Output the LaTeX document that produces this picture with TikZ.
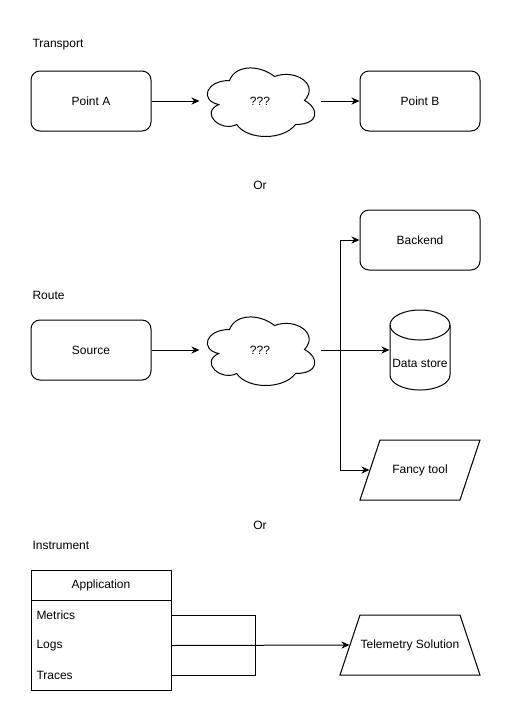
\documentclass[tikz,border=0pt]{standalone}
\usepackage{fontspec}
\setmainfont{Liberation Sans}
\usetikzlibrary{arrows.meta}
\begin{document}
\begin{tikzpicture}[x=1pt,y=-1pt,
  every node/.style={font=\fontsize{12pt}{14pt}\selectfont, inner sep=0pt},
  every path/.style={line width=1pt},
  line/.style={draw=black, line width=1pt},
  arr/.style={line, -{Stealth[length=8pt,width=7pt,inset=2.5pt]}},
  rbox/.style={draw, rounded corners=9pt, minimum width=120pt, minimum height=60pt},
  shapebox/.style={minimum width=#1, minimum height=60pt},
  cloudbox/.style={minimum width=120pt, minimum height=80pt},
  lbl/.style={anchor=west},
  rowbox/.style={anchor=north west, minimum height=30pt, text width=130pt, inner xsep=5pt, align=left}
]
\useasboundingbox (0,0) rectangle (511,721);
\fill[white] (0,0) rectangle (511,721);

% cloud macro
\newcommand\mycloudpath[1]{%
  \draw[shift={(#1)}] (30,20) .. controls (6,20) and (0,40) .. (19.2,44)
    .. controls (0,52.8) and (21.6,72) .. (37.2,64)
    .. controls (48,80) and (84,80) .. (96,64)
    .. controls (120,64) and (120,48) .. (105,40)
    .. controls (120,24) and (96,8) .. (75,16)
    .. controls (60,4) and (36,4) .. (30,20) -- cycle;}

% ---------- Transport ----------
\node[lbl] (ttr) at (32,45) {Transport};
\node[rbox] (pa) at (91,101) {Point A};
\node[cloudbox] (c1) at (260,101) {???};
\mycloudpath{c1.north west}
\node[rbox] (pb) at (420,101) {Point B};
\draw[arr] (pa.east) -- (c1.west);
\draw[arr] (c1.east) -- (pb.west);

\node (or1) at (260,185) {Or};

% ---------- Route ----------
\node[lbl] (tro) at (32,295) {Route};
\node[rbox] (src) at (91,350) {Source};
\node[cloudbox] (c2) at (260,350) {???};
\mycloudpath{c2.north west}
\node[rbox] (be) at (420,240) {Backend};

% data store cylinder
\node[minimum width=60pt, minimum height=80pt] (ds) at (420,350) {};
\draw (390,325) -- (390,375) arc[start angle=180, end angle=360, x radius=30pt, y radius=15pt] -- (450,325);
\draw (420,325) ellipse[x radius=30pt, y radius=15pt];
\node (dstxt) at (420,363) {Data store};

% fancy tool parallelogram
\draw (360,500) -- (380,440) -- (480,440) -- (460,500) -- cycle;
\node[shapebox=100pt] (ft) at (420,470) {Fancy tool};

\coordinate (br) at (340,350);
\draw[arr] (src.east) -- (c2.west);
\draw[arr] (c2.east) -- (ds.west);
\draw[arr] (br) |- (be.west);
\draw[arr] (br) |- (ft.west);

\node (or2) at (260,525) {Or};

% ---------- Instrument ----------
\node[lbl] (tin) at (32,545) {Instrument};
\draw (31,570) rectangle (171,690);
\draw (31,600) -- (171,600);
\node[minimum width=140pt, minimum height=30pt] (app) at (101,585) {Application};
\node[rowbox] (met) at (31,600) {Metrics};
\node[rowbox] (log) at (31,630) {Logs};
\node[rowbox] (tra) at (31,660) {Traces};

% telemetry trapezoid
\draw (340,675) -- (360,615) -- (460,615) -- (480,675) -- cycle;
\node[shapebox=120pt] (tel) at (410,645) {Telemetry Solution};

\coordinate (jn) at (255,645);
\draw[line] (met.east) -| (jn);
\draw[line] (tra.east) -| (jn);
\draw[arr] (log.east) -- (tel.west);
\end{tikzpicture}
\end{document}
